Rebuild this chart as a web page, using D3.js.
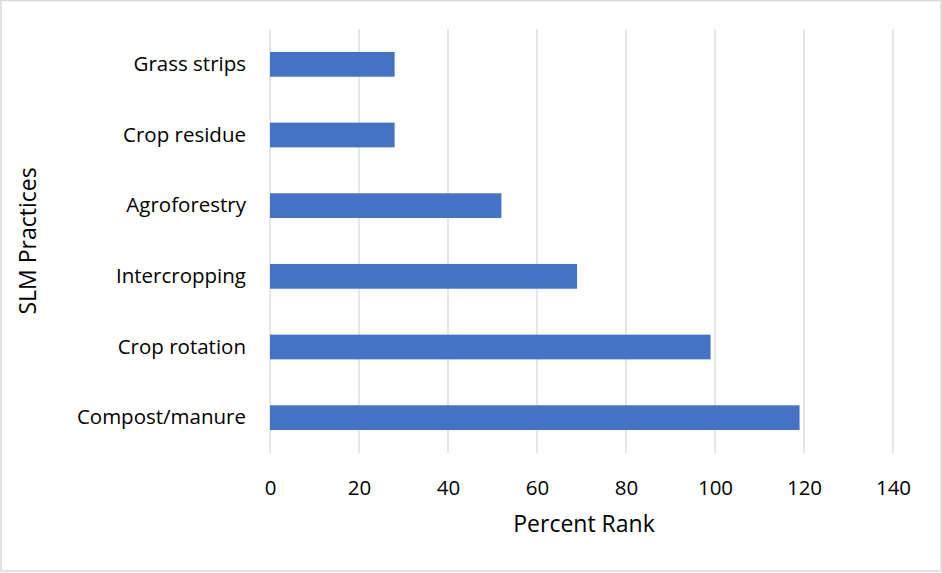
<!DOCTYPE html>
<html>
<head>
<meta charset="utf-8">
<script src="https://cdn.jsdelivr.net/npm/d3@7"></script>
<style>
  body { margin: 0; background: #fff; }
  text { font-family: "Open Sans", sans-serif; fill: #000; }
</style>
</head>
<body>
<div id="chart"></div>
<script>
(function () {

  // Datos
  const practices = ['Compost/manure', 'Crop rotation', 'Intercropping', 'Agroforestry', 'Crop residue', 'Grass strips']
  const percent_rank = [119, 99, 69, 52, 28, 28]
  const x_ticks = [0, 20, 40, 60, 80, 100, 120, 140]

  const width = 942
  const height = 573
  const margin = { top: 29, right: 49, bottom: 120, left: 270 }
  const font = '"Open Sans", sans-serif'

  const svg = d3.select('#chart').append('svg')
    .attr('width', width)
    .attr('height', height)

  // Borde del area del grafico
  svg.append('rect')
    .attr('x', 1).attr('y', 0.5)
    .attr('width', 940).attr('height', 570.5)
    .attr('fill', '#fff')
    .attr('stroke', '#d9d9d9')
    .attr('stroke-width', 1.5)

  const x = d3.scaleLinear()
    .domain([0, 140])
    .range([margin.left, width - margin.right])

  const y = d3.scaleBand()
    .domain(practices.slice().reverse())
    .range([margin.top, height - margin.bottom])
    .paddingInner(0.65)
    .paddingOuter(0.325)

  // Lineas de grilla
  svg.append('g')
    .selectAll('line')
    .data(x_ticks)
    .join('line')
    .attr('x1', d => x(d)).attr('x2', d => x(d))
    .attr('y1', margin.top).attr('y2', height - margin.bottom)
    .attr('stroke', '#d9d9d9')
    .attr('stroke-width', 1.3)

  // Barras
  svg.append('g')
    .selectAll('rect')
    .data(practices.map((p, i) => ({ name: p, value: percent_rank[i] })))
    .join('rect')
    .attr('x', x(0))
    .attr('y', d => y(d.name))
    .attr('width', d => x(d.value) - x(0))
    .attr('height', y.bandwidth())
    .attr('fill', '#4472c4')

  // Eje x
  const xAxis = svg.append('g')
    .attr('transform', `translate(0,${height - margin.bottom})`)
    .call(d3.axisBottom(x).tickValues(x_ticks).tickSize(0).tickPadding(27))
  xAxis.select('.domain').remove()
  xAxis.selectAll('text')
    .attr('font-size', 20.5)
    .style('font-family', font)

  // Eje y
  const yAxis = svg.append('g')
    .attr('transform', `translate(${margin.left},0)`)
    .call(d3.axisLeft(y).tickSize(0).tickPadding(24))
  yAxis.select('.domain').remove()
  yAxis.selectAll('text')
    .attr('font-size', 20.5)
    .style('font-family', font)

  // Titulos de ejes
  svg.append('text')
    .attr('x', 584)
    .attr('y', 532)
    .attr('text-anchor', 'middle')
    .attr('font-size', 23)
    .text('Percent Rank')

  svg.append('text')
    .attr('transform', 'translate(36,241) rotate(-90)')
    .attr('text-anchor', 'middle')
    .attr('font-size', 23)
    .text('SLM Practices')

})()
</script>
</body>
</html>
